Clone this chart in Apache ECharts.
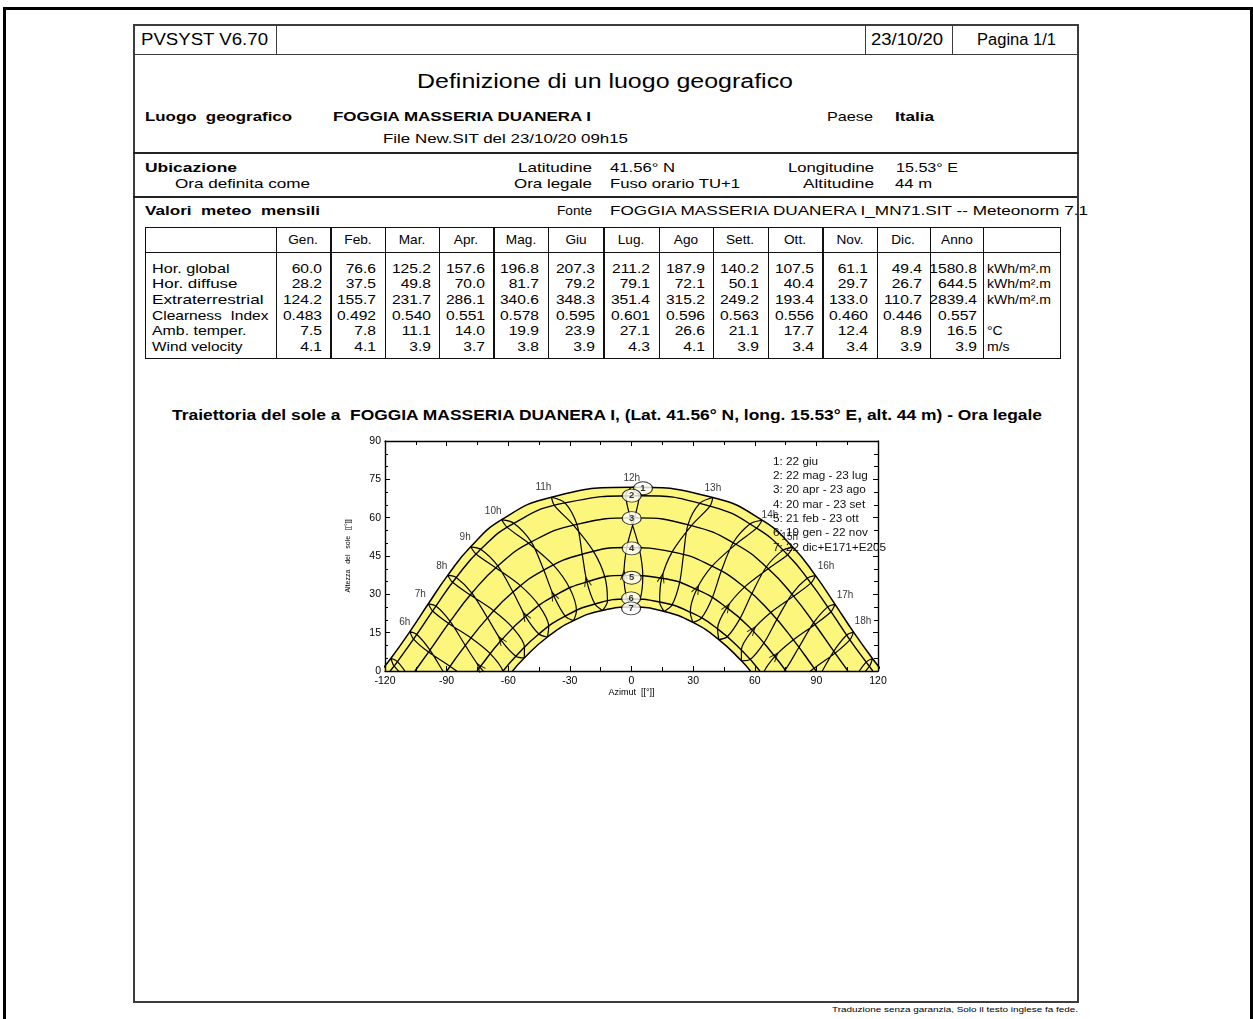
<!DOCTYPE html>
<html><head><meta charset="utf-8">
<script src="https://cdn.jsdelivr.net/npm/echarts@6/dist/echarts.min.js"></script>
<style>
html,body{margin:0;padding:0;background:#fff;width:1253px;height:1019px;overflow:hidden;position:relative;font-family:"Liberation Sans",Arial,sans-serif;color:#000}
.t{position:absolute;line-height:1;white-space:pre}
.ln{position:absolute}
#chart{position:absolute;left:0;top:0;width:1253px;height:1019px}
</style></head><body>
<div id="page" style="position:absolute;left:0;top:0;width:1253px;height:1019px"></div>
<div id="chart"></div>
<script>
// ---------------- DATA ----------------
const MONTHS = ['Gen.','Feb.','Mar.','Apr.','Mag.','Giu','Lug.','Ago','Sett.','Ott.','Nov.','Dic.','Anno'];
const ROW_LABELS = ['Hor. global','Hor. diffuse','Extraterrestrial','Clearness  Index','Amb. temper.','Wind velocity'];
const UNITS = ['kWh/m².m','kWh/m².m','kWh/m².m','','°C','m/s'];
const horGlobal = [60.0,76.6,125.2,157.6,196.8,207.3,211.2,187.9,140.2,107.5,61.1,49.4,1580.8];
const horDiffuse = [28.2,37.5,49.8,70.0,81.7,79.2,79.1,72.1,50.1,40.4,29.7,26.7,644.5];
const extraterrestrial = [124.2,155.7,231.7,286.1,340.6,348.3,351.4,315.2,249.2,193.4,133.0,110.7,2839.4];
const clearnessIndex = [0.483,0.492,0.540,0.551,0.578,0.595,0.601,0.596,0.563,0.556,0.460,0.446,0.557];
const ambTemper = [7.5,7.8,11.1,14.0,19.9,23.9,27.1,26.6,21.1,17.7,12.4,8.9,16.5];
const windVelocity = [4.1,4.1,3.9,3.7,3.8,3.9,4.3,4.1,3.9,3.4,3.4,3.9,3.9];
const ROW_DECIMALS = [1,1,1,3,1,1];

// sun positions [azimuth, altitude] at legal hours 5h..19h for each date
const HOURS = [5,6,7,8,9,10,11,12,13,14,15,16,17,18,19];
const jan19=[[-85.1,-25.7],[-75.8,-14.7],[-66.4,-4.1],[-56.3,5.8],[-45.1,14.5],[-32.3,21.5],[-17.8,26.2],[-2.1,28.2],[13.7,27.0],[28.6,23.0],[41.9,16.5],[53.5,8.2],[63.9,-1.4],[73.4,-11.9],[82.6,-22.8]];
const feb21=[[-93.6,-20.7],[-83.7,-9.5],[-73.8,1.5],[-63.4,12.0],[-51.6,21.4],[-37.8,29.3],[-21.7,34.9],[-3.7,37.4],[14.7,36.3],[31.7,31.9],[46.4,24.8],[58.9,15.9],[69.8,5.7],[79.8,-5.1],[89.6,-16.2]];
const mar20=[[-101.0,-12.4],[-90.9,-1.2],[-80.9,10.0],[-70.1,20.8],[-57.7,30.9],[-42.7,39.5],[-24.0,45.7],[-2.3,48.3],[19.8,46.6],[39.2,41.0],[55.0,32.8],[67.8,22.9],[78.8,12.2],[88.9,1.1],[99.0,-10.1]];
const apr20=[[-108.0,-2.8],[-98.1,8.2],[-88.3,19.4],[-77.7,30.5],[-65.1,41.1],[-48.8,50.5],[-26.6,57.4],[1.5,59.9],[29.2,56.9],[50.8,49.6],[66.6,40.0],[78.9,29.3],[89.3,18.2],[99.1,7.0],[109.1,-3.9]];
const may22=[[-113.9,3.7],[-104.5,14.3],[-95.2,25.4],[-85.3,36.6],[-73.4,47.6],[-57.3,57.8],[-32.4,65.8],[3.7,68.6],[38.2,64.5],[60.9,55.9],[76.0,45.5],[87.3,34.4],[97.1,23.2],[106.3,12.2],[115.8,1.8]];
const jun22=[[-117.1,5.0],[-107.9,15.4],[-98.9,26.3],[-89.4,37.5],[-78.3,48.6],[-63.2,59.2],[-39.0,68.0],[0.4,71.9],[39.6,67.9],[63.6,59.0],[78.6,48.4],[89.6,37.3],[99.1,26.1],[108.1,15.2],[117.3,4.9]];
const jul23=[[-115.6,2.0],[-106.1,12.5],[-96.8,23.5],[-87.1,34.7],[-75.7,45.8],[-60.5,56.2],[-37.5,64.7],[-2.8,68.7],[33.2,65.6],[57.8,57.6],[73.8,47.3],[85.5,36.3],[95.5,25.1],[104.8,14.1],[114.2,3.5]];
const aug23=[[-108.7,-3.5],[-98.8,7.4],[-89.0,18.6],[-78.4,29.7],[-66.1,40.4],[-50.1,50.0],[-28.3,57.1],[-0.5,59.9],[27.5,57.3],[49.5,50.2],[65.6,40.7],[78.1,30.1],[88.7,18.9],[98.5,7.8],[108.4,-3.1]];
const sep23=[[-98.3,-9.4],[-88.3,1.8],[-78.1,12.9],[-67.1,23.6],[-54.1,33.4],[-38.1,41.5],[-18.5,46.8],[3.7,48.3],[25.3,45.4],[43.7,39.1],[58.6,30.3],[70.8,20.2],[81.5,9.3],[91.5,-1.9],[101.7,-13.0]];
const oct23=[[-88.6,-15.1],[-78.8,-4.0],[-68.8,6.8],[-57.7,16.8],[-45.0,25.6],[-30.1,32.4],[-12.9,36.6],[5.5,37.3],[23.4,34.5],[39.3,28.6],[52.8,20.5],[64.5,11.0],[74.8,0.4],[84.6,-10.6],[94.6,-21.8]];
const nov22=[[-81.4,-21.4],[-72.1,-10.5],[-62.6,-0.1],[-52.1,9.3],[-40.3,17.4],[-26.8,23.6],[-11.7,27.3],[4.2,28.1],[19.7,25.8],[34.0,20.7],[46.6,13.4],[57.7,4.5],[67.7,-5.4],[77.0,-16.1],[86.3,-27.2]];
const dec22=[[-80.4,-25.5],[-71.5,-14.6],[-62.2,-4.3],[-52.2,5.1],[-40.9,13.3],[-28.2,19.7],[-14.1,23.7],[1.0,25.0],[15.9,23.3],[29.9,19.0],[42.5,12.3],[53.5,4.0],[63.4,-5.6],[72.6,-16.0],[81.6,-26.9]];
// sunrise/sunset azimuth of curves 1..7
const horizonAz = [122.1,117.5,105.4,89.9,75.2,62.5,57.9];
// circled curve numbers (az, alt)
const markerPos = [[5.6,71.5],[0.1,68.6],[0.1,59.8],[0.1,48.0],[0.1,36.5],[-0.2,28.4],[-0.2,24.5]];
const LEGEND_LINES = ['1: 22 giu','2: 22 mag - 23 lug','3: 20 apr - 23 ago','4: 20 mar - 23 set','5: 21 feb - 23 ott','6: 19 gen - 22 nov','7: 22 dic+E171+E205'];

// ---------------- PAGE (HTML) ----------------
const page = document.getElementById('page');
function line(x,y,w,h,c){const d=document.createElement('div');d.className='ln';d.style.cssText=`left:${x}px;top:${y}px;width:${w}px;height:${h}px;background:${c||'#333'}`;page.appendChild(d);}
function fit(s,x0,x1,y,size,bold){const e=document.createElement('span');e.className='t';e.textContent=s;e.style.fontSize=size+'px';if(bold)e.style.fontWeight='bold';e.style.left=x0+'px';e.style.top=y+'px';page.appendChild(e);const w=e.getBoundingClientRect().width;const k=(x1-x0)/w;e.style.transformOrigin='0 50%';e.style.transform=`translateY(-50%) scaleX(${k})`;}
function anch(s,x,y,size,a,k,bold){const e=document.createElement('span');e.className='t';e.textContent=s;e.style.fontSize=size+'px';if(bold)e.style.fontWeight='bold';e.style.left=x+'px';e.style.top=y+'px';const tx=a==='l'?'0':a==='r'?'-100%':'-50%';e.style.transformOrigin=(a==='l'?'0':a==='r'?'100%':'50%')+' 50%';e.style.transform=`translate(${tx},-50%) scaleX(${k})`;page.appendChild(e);}

// outer black border
const ob=document.createElement('div');ob.style.cssText='position:absolute;left:3px;top:7px;width:1244px;height:1040px;border:3px solid #000;border-bottom:none';page.appendChild(ob);
// inner frame
const G='#3c3c3c';
line(133,24,946,1.6,G); line(133,1001,946,1.6,G); line(133,24,1.6,979,G); line(1077,24,1.6,979,G);
line(133,54,946,1.4,G); line(276,24,1.4,31,G); line(865,24,1.4,31,G); line(952,24,1.4,31,G);
line(133,152,946,1.5,'#222'); line(133,196,946,1.5,'#222');

fit('PVSYST V6.70',141,268,40,16);
fit('23/10/20',871,943,40,16);
fit('Pagina 1/1',977,1056,40,16);
fit('Definizione di un luogo geografico',417,793,81,20);
fit('Luogo  geografico',145,292,116,13,true);
fit('FOGGIA MASSERIA DUANERA I',333,591,116,13,true);
fit('Paese',827,873,116,13);
fit('Italia',895,934,116,13,true);
fit('File New.SIT del 23/10/20 09h15',383,628,138,13);
fit('Ubicazione',145,237,167,13,true);
fit('Ora definita come',175,310,183,13);
fit('Latitudine',518,592,167,13);
fit('Ora legale',514,592,183,13);
fit('41.56° N',610,675,167,13);
fit('Fuso orario TU+1',610,740,183,13);
fit('Longitudine',788,874,167,13);
fit('Altitudine',803,874,183,13);
fit('15.53° E',896,958,167,13);
fit('44 m',895,932,183,13);
fit('Valori  meteo  mensili',145,320,210,13,true);
fit('Fonte',557,592,210,13);
fit('FOGGIA MASSERIA DUANERA I_MN71.SIT -- Meteonorm 7.1',610,1088,210,13);
fit('Traiettoria del sole a  FOGGIA MASSERIA DUANERA I, (Lat. 41.56° N, long. 15.53° E, alt. 44 m) - Ora legale',172,1042,415,14,true);
fit('Traduzione senza garanzia, Solo il testo inglese fa fede.',832,1078,1010,8);
// re-draw frame right edge over the overflowing text
line(1077,196,1.6,30,G);

// table
const TL=145,TR=1060,TT=227,TB=358,HB=252;
const COLX=[276,330.4,384.8,439,493.4,547.6,603.4,658.6,713,767.8,822.4,876.6,930.2,983.3];
line(TL,TT,TR-TL+1,1.3,'#111'); line(TL,TB,TR-TL+1,1.3,'#111'); line(TL,TT,1.3,TB-TT,'#111'); line(TR,TT,1.3,TB-TT+1,'#111');
line(TL,HB,TR-TL+1,1.3,'#111');
COLX.forEach(x=>line(x,TT,1.2,TB-TT,'#111'));
MONTHS.forEach((m,i)=>anch(m,(COLX[i]+COLX[i+1])/2,239,13,'c',1.05));
const ROWS=[horGlobal,horDiffuse,extraterrestrial,clearnessIndex,ambTemper,windVelocity];
const RY0=267.5, RDY=15.7;
const LABEL_END=[229,237,263,268,246,242];
ROW_LABELS.forEach((l,r)=>fit(l,151.5,LABEL_END[r],RY0+RDY*r,13));
ROWS.forEach((vals,r)=>{vals.forEach((v,i)=>{const right=COLX[i+1]-(i===12?6.5:8.5);anch(v.toFixed(ROW_DECIMALS[r]),right,RY0+RDY*r,13,'r',1.2);});
  if(UNITS[r])anch(UNITS[r],987,RY0+RDY*r,13,'l',1.08);});

// ---------------- CHART (ECharts) ----------------
const chart = echarts.init(document.getElementById('chart'), null, {renderer:'canvas'});
const FONT='"Liberation Sans", Arial, sans-serif';
const curveDates=[jun22,may22,apr20,mar20,feb21,jan19,dec22];
const loopOrder=[dec22,jan19,feb21,mar20,apr20,may22,jun22,jul23,aug23,sep23,oct23,nov22,dec22];
function curveData(k){const hz=horizonAz[k];return [[-hz,0]].concat(curveDates[k].filter(p=>p[1]>0),[[hz,0]]);}
const LABEL_OFF={6:[-5,-9],7:[-8,-10],8:[-6,-9],9:[-5.5,-9.5],10:[-8.5,-8.7],11:[-8,-10],12:[-0.6,-8.7],13:[0,-9.2],14:[7.8,-5],15:[-3.3,-10.2],16:[10.5,-9.2],17:[10,-8.7],18:[9.4,-10.5]};

const series=[];
series.push({type:'line',data:curveData(0),smooth:0.5,symbol:'none',z:1,lineStyle:{color:'#000',width:1.5},areaStyle:{color:'#fcf67c',opacity:1}});
series.push({type:'line',data:curveData(6),smooth:0.5,symbol:'none',z:2,lineStyle:{color:'#000',width:1.5},areaStyle:{color:'#ffffff',opacity:1}});
for(let k=1;k<6;k++)series.push({type:'line',data:curveData(k),smooth:0.5,symbol:'none',z:3,lineStyle:{color:'#000',width:1.4}});
HOURS.forEach((h,i)=>{series.push({type:'line',data:loopOrder.map(d=>d[i]),smooth:0.3,symbol:'none',z:3,lineStyle:{color:'#000',width:1.2}});});
const arrowIdx=HOURS.map((h,i)=>i).filter(i=>feb21[i][1]>0);
series.push({id:'arrows',type:'scatter',z:4,symbol:'path://M0,10L5,0L10,10',symbolSize:[7,9],itemStyle:{color:'none',borderColor:'#000',borderWidth:1.1},data:arrowIdx.map(i=>({value:feb21[i]}))});
series.push({type:'scatter',z:6,symbolSize:0,data:HOURS.map((h,i)=>({h,value:jun22[i]})).filter(d=>LABEL_OFF[d.h]).map(d=>({value:d.value,name:d.h+'h',label:{offset:LABEL_OFF[d.h]}})),
  label:{show:true,position:'inside',formatter:'{b}',fontSize:10,color:'#000',fontFamily:FONT}});
series.push({type:'scatter',z:7,symbol:'circle',symbolSize:[19,13],itemStyle:{color:'#fff',borderColor:'#000',borderWidth:1},data:markerPos.map((p,i)=>({value:p,name:String(i+1)})),
  label:{show:true,position:'inside',formatter:'{b}',fontSize:9.5,fontWeight:'bold',color:'#000',fontFamily:FONT}});

const axisCommon={axisLine:{onZero:false,lineStyle:{color:'#000',width:1.4}},axisTick:{inside:true,length:5,lineStyle:{color:'#000',width:1}},splitLine:{show:false},z:10};
const option={
  animation:false,
  grid:{left:385,top:441,width:493,height:230,containLabel:false},
  xAxis:[
    Object.assign({type:'value',min:-120,max:120,interval:30,position:'bottom',minorTick:{show:true,splitNumber:2,length:4,lineStyle:{color:'#000'}},
      axisLabel:{fontSize:10.5,color:'#000',margin:5,fontFamily:FONT},name:'Azimut  [[°]]',nameLocation:'middle',nameGap:17,nameTextStyle:{fontSize:9,color:'#000',fontFamily:FONT}},axisCommon),
    Object.assign({type:'value',min:-120,max:120,interval:30,position:'top',minorTick:{show:true,splitNumber:2,length:4,lineStyle:{color:'#000'}},axisLabel:{show:false}},axisCommon)
  ],
  yAxis:[
    Object.assign({type:'value',min:0,max:90,interval:15,position:'left',minorTick:{show:true,splitNumber:3,length:3,lineStyle:{color:'#000'}},
      axisLabel:{fontSize:10.5,color:'#000',margin:4,fontFamily:FONT},name:'Altezza   del   sole   [[°]]',nameLocation:'middle',nameGap:33,nameRotate:90,nameTextStyle:{fontSize:7,color:'#000',fontFamily:FONT}},axisCommon),
    Object.assign({type:'value',min:0,max:90,interval:15,position:'right',minorTick:{show:true,splitNumber:3,length:4,lineStyle:{color:'#000'}},axisLabel:{show:false}},axisCommon)
  ],
  graphic:LEGEND_LINES.map((t,i)=>({type:'text',x:773,y:462+14.3*i,scaleX:1.12,z:100,style:{text:t,fontSize:10.5,fill:'#111',fontFamily:FONT,textVerticalAlign:'middle',verticalAlign:'middle'}})),
  series
};
chart.setOption(option);
// orient arrows along the hour lines (Jan -> Mar direction)
const rot=arrowIdx.map(i=>{const a=chart.convertToPixel({xAxisIndex:0,yAxisIndex:0},jan19[i]);const b=chart.convertToPixel({xAxisIndex:0,yAxisIndex:0},mar20[i]);return Math.atan2(-(b[0]-a[0]),-(b[1]-a[1]))*180/Math.PI;});
chart.setOption({series:[{id:'arrows',data:arrowIdx.map((i,j)=>({value:feb21[i],symbolRotate:rot[j]}))}]});
</script>
</body></html>
